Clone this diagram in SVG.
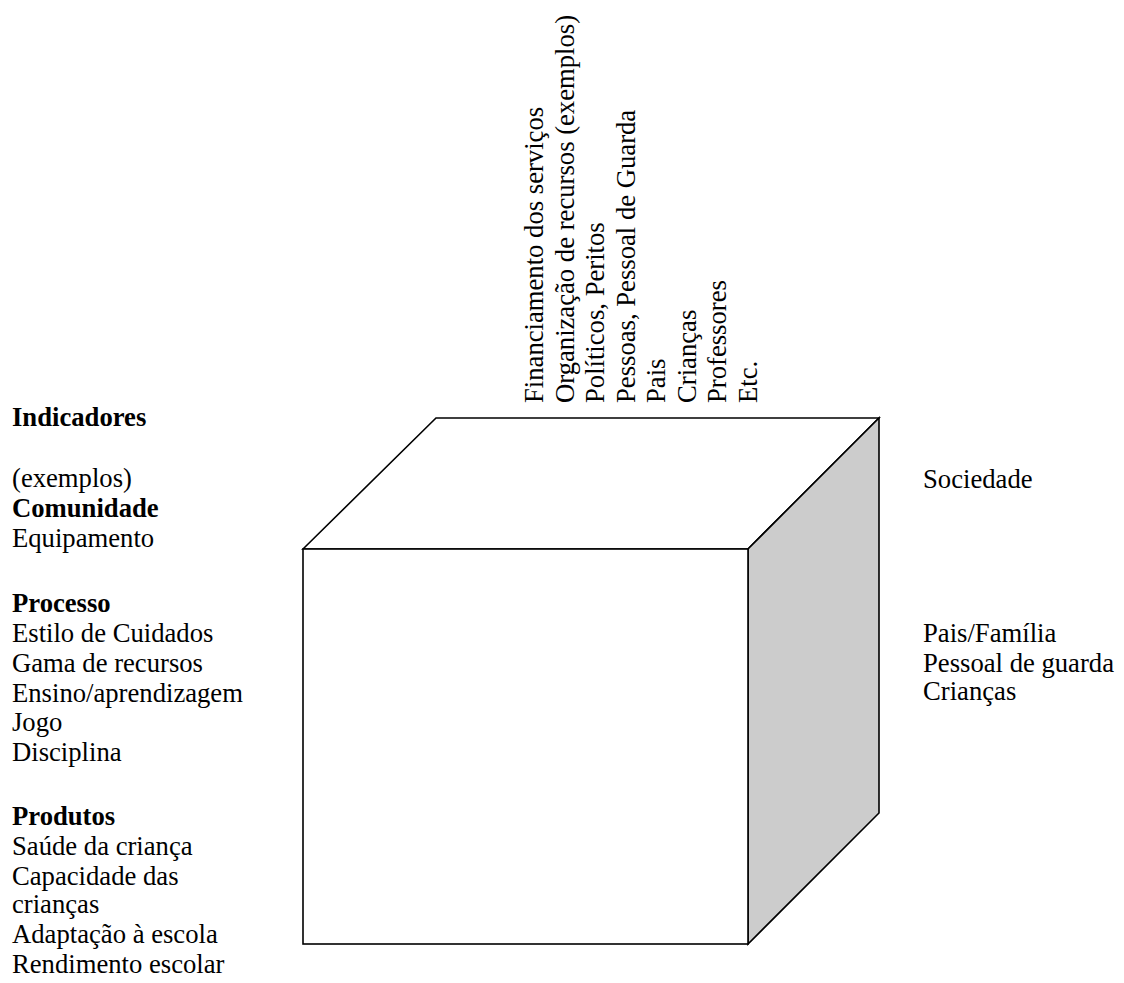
<svg xmlns="http://www.w3.org/2000/svg" width="1124" height="983" viewBox="0 0 1124 983">
<style>
  text { font-family: "Liberation Serif", "Times New Roman", serif; font-size: 26.67px; fill: #000; }
  .b { font-weight: bold; }
  .edge { stroke: #000; stroke-width: 1.6; stroke-linejoin: miter; }
</style>
<rect width="1124" height="983" fill="#fff"/>
<g id="cube">
  <polygon id="cube-top" class="edge" fill="#fff" points="303,549 436,418 879,418 748,549"/>
  <polygon id="cube-side" class="edge" fill="#cccccc" points="748,549 879,418 879,813 748,944"/>
  <rect id="cube-front" class="edge" fill="#fff" x="303" y="549" width="445" height="395"/>
</g>
<g id="top-labels">
  <text transform="translate(543,403) rotate(-90)">Financiamento dos serviços</text>
  <text transform="translate(573.5,403) rotate(-90)">Organização de recursos (exemplos)</text>
  <text transform="translate(604,403) rotate(-90)">Políticos, Peritos</text>
  <text transform="translate(634.5,403) rotate(-90)">Pessoas, Pessoal de Guarda</text>
  <text transform="translate(665,403) rotate(-90)">Pais</text>
  <text transform="translate(695.5,403) rotate(-90)">Crianças</text>
  <text transform="translate(726,403) rotate(-90)">Professores</text>
  <text transform="translate(756.5,403) rotate(-90)">Etc.</text>
</g>
<g id="left-labels">
  <text class="b" x="12" y="426">Indicadores</text>
  <text x="12" y="487">(exemplos)</text>
  <text class="b" x="12" y="517">Comunidade</text>
  <text x="12" y="547">Equipamento</text>
  <text class="b" x="12" y="612">Processo</text>
  <text x="12" y="642">Estilo de Cuidados</text>
  <text x="12" y="672">Gama de recursos</text>
  <text x="12" y="702">Ensino/aprendizagem</text>
  <text x="12" y="731">Jogo</text>
  <text x="12" y="761">Disciplina</text>
  <text class="b" x="12" y="825">Produtos</text>
  <text x="12" y="855">Saúde da criança</text>
  <text x="12" y="885">Capacidade das</text>
  <text x="12" y="913">crianças</text>
  <text x="12" y="943">Adaptação à escola</text>
  <text x="12" y="973">Rendimento escolar</text>
</g>
<g id="right-labels">
  <text x="923" y="488">Sociedade</text>
  <text x="923" y="642">Pais/Família</text>
  <text x="923" y="672">Pessoal de guarda</text>
  <text x="923" y="700">Crianças</text>
</g>
</svg>
